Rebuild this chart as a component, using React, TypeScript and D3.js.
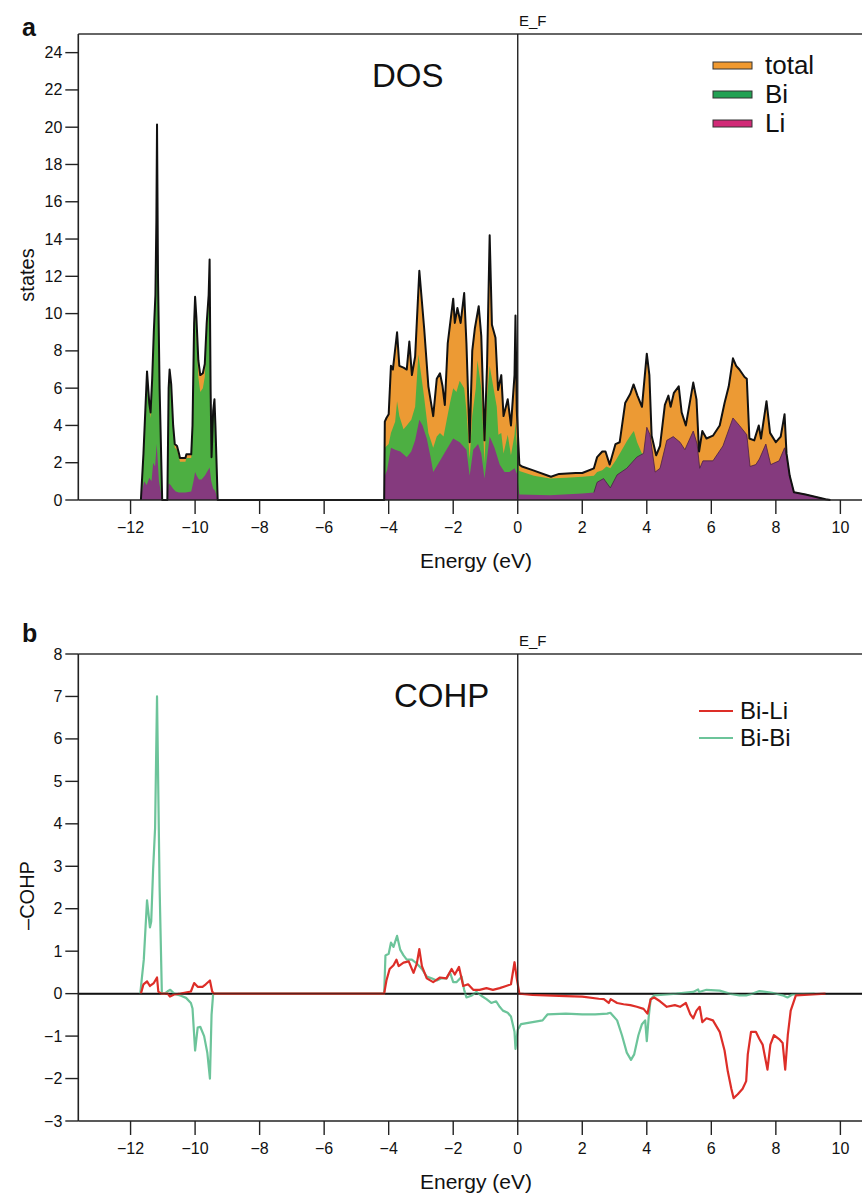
import React from "react";
import * as d3 from "d3";

// DOS curves, [energy eV, states]
const dosTotal: [number, number][] = [
  [-11.68, 0], [-11.6, 2.5], [-11.49, 6.9], [-11.42, 5.2], [-11.38, 4.7], [-11.33, 6.5], [-11.28, 9.0], [-11.23, 11.0], [-11.2, 15.0], [-11.18, 20.15], [-11.15, 12], [-11.1, 6], [-11.02, 0],
  [-10.86, 0], [-10.82, 6.0], [-10.79, 7.0], [-10.74, 6.2], [-10.68, 4.0], [-10.63, 3.0], [-10.56, 2.9], [-10.5, 2.5], [-10.47, 2.25], [-10.3, 2.25], [-10.27, 2.45], [-10.12, 2.45], [-10.08, 4.0], [-10.03, 9.5], [-10.0, 10.9], [-9.96, 9.8], [-9.9, 7.5], [-9.84, 6.7], [-9.76, 6.8], [-9.7, 7.3], [-9.64, 9.5], [-9.58, 11.0], [-9.55, 12.9], [-9.52, 6.0], [-9.49, 2.3], [-9.44, 4.8], [-9.4, 5.4], [-9.37, 4.0], [-9.3, 0],
  [-4.14, 0], [-4.12, 4.2], [-4.07, 4.4], [-4.0, 4.6], [-3.93, 7.2], [-3.87, 7.0], [-3.74, 9.0], [-3.67, 7.2], [-3.54, 7.1], [-3.44, 7.0], [-3.36, 8.5], [-3.28, 6.7], [-3.18, 7.7], [-3.05, 12.3], [-2.9, 9.2], [-2.77, 6.1], [-2.62, 4.5], [-2.51, 6.5], [-2.41, 6.8], [-2.33, 6.1], [-2.26, 5.1], [-2.17, 8.4], [-2.0, 10.8], [-1.95, 9.5], [-1.87, 10.3], [-1.77, 9.5], [-1.66, 11.1], [-1.59, 8.4], [-1.49, 3.1], [-1.41, 8.0], [-1.33, 9.2], [-1.21, 10.4], [-1.13, 8.8], [-1.03, 3.2], [-0.95, 7.3], [-0.87, 14.2], [-0.8, 9.4], [-0.69, 8.7], [-0.61, 5.9], [-0.51, 6.7], [-0.44, 4.5], [-0.31, 5.4], [-0.21, 4.0], [-0.1, 6.7], [-0.07, 9.9], [-0.03, 4.8],
  [0.05, 1.9], [0.13, 1.8], [0.46, 1.6], [1.03, 1.25], [1.28, 1.4], [1.79, 1.45], [2.0, 1.45], [2.36, 1.7], [2.46, 2.3], [2.62, 2.6], [2.72, 2.6], [2.85, 1.9], [3.03, 3.0], [3.16, 3.1], [3.33, 5.2], [3.49, 5.7], [3.59, 6.2], [3.71, 5.6], [3.85, 5.0], [4.0, 7.85], [4.08, 6.7], [4.15, 3.45], [4.29, 2.4], [4.41, 2.9], [4.56, 5.1], [4.67, 5.6], [4.74, 5.0], [4.84, 5.75], [4.99, 6.1], [5.08, 4.7], [5.21, 4.0], [5.33, 5.2], [5.44, 6.3], [5.54, 5.4], [5.62, 2.6], [5.72, 3.7], [5.85, 3.3], [6.05, 3.45], [6.26, 4.0], [6.41, 5.2], [6.54, 6.1], [6.67, 7.6], [6.77, 7.2], [6.87, 7.0], [7.03, 6.6], [7.1, 6.5], [7.18, 3.3], [7.33, 3.2], [7.47, 4.0], [7.54, 3.3], [7.71, 5.3], [7.82, 3.6], [8.0, 3.1], [8.15, 3.4], [8.27, 4.6], [8.33, 2.5], [8.43, 1.3], [8.56, 0.42], [8.92, 0.3], [9.54, 0.04], [9.69, 0],
];

const dosBi: [number, number][] = [
  [-11.68, 0], [-11.6, 2.4], [-11.49, 6.7], [-11.42, 4.9], [-11.38, 4.4], [-11.33, 6.2], [-11.28, 8.7], [-11.23, 10.7], [-11.2, 14.5], [-11.18, 19.8], [-11.15, 11.7], [-11.1, 5.8], [-11.02, 0],
  [-10.86, 0], [-10.82, 5.8], [-10.79, 6.8], [-10.74, 6.0], [-10.68, 3.8], [-10.63, 2.8], [-10.56, 2.7], [-10.5, 2.3], [-10.47, 2.05], [-10.3, 2.05], [-10.27, 2.25], [-10.12, 2.25], [-10.08, 3.8], [-10.03, 9.0], [-10.0, 10.4], [-9.96, 9.0], [-9.9, 6.6], [-9.84, 5.8], [-9.76, 6.0], [-9.7, 6.6], [-9.64, 9.0], [-9.58, 10.5], [-9.55, 12.4], [-9.52, 6.0], [-9.49, 3.5], [-9.44, 4.8], [-9.4, 5.2], [-9.37, 3.9], [-9.3, 0],
  [-4.14, 0], [-4.12, 2.8], [-4.0, 3.0], [-3.93, 3.6], [-3.8, 4.2], [-3.74, 5.3], [-3.67, 4.5], [-3.54, 3.8], [-3.44, 4.0], [-3.3, 4.3], [-3.18, 5.0], [-3.08, 7.8], [-3.0, 6.8], [-2.9, 5.5], [-2.77, 3.6], [-2.62, 2.8], [-2.51, 3.4], [-2.41, 3.6], [-2.3, 3.4], [-2.2, 4.3], [-2.1, 5.2], [-2.0, 6.0], [-1.9, 5.8], [-1.8, 6.4], [-1.66, 6.0], [-1.59, 4.8], [-1.49, 2.2], [-1.41, 4.5], [-1.3, 6.0], [-1.25, 7.5], [-1.13, 6.0], [-1.03, 2.0], [-0.95, 5.5], [-0.87, 7.2], [-0.75, 6.0], [-0.65, 5.0], [-0.6, 3.5], [-0.51, 3.6], [-0.44, 2.5], [-0.31, 3.5], [-0.21, 2.4], [-0.1, 3.5], [-0.07, 4.2], [-0.03, 3.0],
  [0.05, 1.55], [0.5, 1.3], [1.0, 1.15], [1.5, 1.2], [2.0, 1.25], [2.36, 1.3], [2.46, 1.5], [2.62, 1.6], [2.75, 1.8], [2.87, 1.7], [3.03, 2.1], [3.2, 2.6], [3.38, 3.15], [3.55, 3.6], [3.6, 3.7], [3.7, 3.1], [3.85, 2.5], [3.9, 2.5], [3.95, 0],
];

const dosLi: [number, number][] = [
  [-11.68, 0], [-11.64, 0.5], [-11.58, 1.0], [-11.5, 0.8], [-11.42, 1.2], [-11.35, 1.0], [-11.3, 2.0], [-11.24, 1.8], [-11.19, 3.0], [-11.12, 1.0], [-11.05, 0.3], [-11.02, 0],
  [-10.86, 0], [-10.82, 0.9], [-10.76, 0.8], [-10.68, 0.6], [-10.6, 0.45], [-10.5, 0.4], [-10.3, 0.4], [-10.12, 0.45], [-10.05, 1.0], [-10.0, 1.5], [-9.95, 1.3], [-9.88, 1.1], [-9.8, 1.1], [-9.7, 1.3], [-9.6, 1.6], [-9.55, 1.75], [-9.5, 1.0], [-9.44, 0.6], [-9.38, 0.5], [-9.3, 0],
  [-4.14, 0], [-4.12, 1.3], [-4.05, 1.6], [-3.93, 2.8], [-3.8, 2.7], [-3.64, 2.6], [-3.44, 2.3], [-3.3, 2.6], [-3.18, 3.2], [-3.05, 4.3], [-2.95, 4.0], [-2.82, 3.3], [-2.7, 2.3], [-2.62, 1.5], [-2.41, 2.1], [-2.21, 2.7], [-2.0, 3.3], [-1.8, 3.1], [-1.59, 2.7], [-1.49, 1.3], [-1.38, 2.7], [-1.23, 3.0], [-1.13, 2.5], [-1.03, 1.15], [-0.87, 3.4], [-0.72, 2.8], [-0.56, 1.9], [-0.41, 1.5], [-0.26, 1.5], [-0.1, 1.7], [-0.02, 1.4],
  [0.05, 0.3], [1.0, 0.25], [2.0, 0.35], [2.36, 0.4], [2.46, 0.95], [2.66, 1.15], [2.87, 0.65], [3.08, 1.35], [3.38, 1.7], [3.69, 2.3], [3.9, 2.5], [4.0, 3.9], [4.1, 3.5], [4.26, 1.5], [4.41, 1.7], [4.62, 3.2], [4.82, 3.4], [5.03, 3.1], [5.18, 2.7], [5.44, 3.7], [5.56, 3.0], [5.64, 1.7], [5.74, 2.1], [6.05, 2.1], [6.36, 2.9], [6.67, 4.4], [6.87, 4.0], [7.1, 3.5], [7.2, 1.8], [7.38, 1.9], [7.49, 2.2], [7.69, 3.0], [7.84, 1.9], [8.1, 2.1], [8.27, 2.8], [8.33, 2.4], [8.43, 1.3], [8.56, 0.42], [8.92, 0.3], [9.54, 0.04], [9.69, 0],
];

// -COHP curves, [energy eV, -COHP]
const cohpBiLi: [number, number][] = [
  [-11.68, 0], [-11.6, 0.22], [-11.49, 0.29], [-11.4, 0.18], [-11.28, 0.25], [-11.18, 0.38], [-11.14, 0.05], [-11.05, 0], [-10.85, 0], [-10.78, -0.07], [-10.65, -0.02], [-10.45, 0], [-10.13, 0.05], [-10.03, 0.25], [-9.92, 0.16], [-9.77, 0.16], [-9.67, 0.22], [-9.54, 0.31], [-9.47, 0.05], [-9.42, 0],
  [-4.14, 0], [-4.07, 0.31], [-3.97, 0.58], [-3.85, 0.67], [-3.76, 0.8], [-3.69, 0.65], [-3.54, 0.73], [-3.38, 0.76], [-3.23, 0.49], [-3.13, 0.7], [-3.05, 1.05], [-2.97, 0.65], [-2.82, 0.36], [-2.62, 0.27], [-2.41, 0.38], [-2.21, 0.36], [-2.05, 0.58], [-1.95, 0.45], [-1.82, 0.63], [-1.69, 0.18], [-1.54, 0.22], [-1.38, 0.09], [-1.18, 0.09], [-0.97, 0.13], [-0.77, 0.09], [-0.56, 0.13], [-0.36, 0.18], [-0.21, 0.22], [-0.1, 0.74], [-0.03, 0.36],
  [0.05, 0], [0.46, -0.03], [1.49, -0.06], [2.0, -0.07], [2.51, -0.12], [2.67, -0.13], [2.82, -0.22], [2.88, -0.13], [3.08, -0.22], [3.28, -0.25], [3.49, -0.27], [3.69, -0.31], [3.9, -0.36], [4.02, -0.47], [4.12, -0.13], [4.23, -0.09], [4.41, -0.18], [4.62, -0.31], [4.87, -0.27], [5.03, -0.31], [5.21, -0.22], [5.35, -0.49], [5.44, -0.58], [5.54, -0.4], [5.64, -0.31], [5.72, -0.67], [5.85, -0.58], [6.05, -0.63], [6.26, -0.9], [6.41, -1.34], [6.51, -1.83], [6.62, -2.24], [6.69, -2.46], [6.82, -2.37], [6.97, -2.24], [7.08, -2.06], [7.13, -1.43], [7.23, -0.9], [7.38, -0.9], [7.49, -1.07], [7.59, -1.2], [7.74, -1.79], [7.83, -1.2], [7.94, -0.98], [8.1, -1.07], [8.21, -1.16], [8.29, -1.79], [8.37, -0.98], [8.46, -0.4], [8.62, -0.04], [9.54, 0],
];

const cohpBiBi: [number, number][] = [
  [-11.7, 0], [-11.59, 0.8], [-11.49, 2.2], [-11.4, 1.56], [-11.36, 1.7], [-11.3, 2.95], [-11.24, 3.9], [-11.18, 7.0], [-11.1, 2.5], [-11.03, 0], [-10.95, 0], [-10.86, 0.05], [-10.77, 0.09], [-10.65, 0], [-10.44, -0.05], [-10.28, -0.1], [-10.13, -0.22], [-10.08, -0.35], [-10.0, -1.34], [-9.92, -0.8], [-9.84, -0.78], [-9.72, -1.0], [-9.62, -1.4], [-9.54, -2.0], [-9.49, -0.5], [-9.44, 0],
  [-4.14, 0], [-4.1, 0.9], [-4.0, 0.94], [-3.93, 1.2], [-3.85, 1.1], [-3.74, 1.36], [-3.64, 1.03], [-3.54, 0.9], [-3.44, 0.8], [-3.28, 0.8], [-3.13, 0.71], [-2.97, 0.58], [-2.82, 0.4], [-2.67, 0.36], [-2.51, 0.31], [-2.36, 0.36], [-2.21, 0.36], [-2.1, 0.5], [-2.0, 0.27], [-1.9, 0.27], [-1.74, 0.4], [-1.66, 0.09], [-1.59, -0.09], [-1.44, -0.05], [-1.28, 0.04], [-1.13, -0.05], [-0.97, -0.13], [-0.82, -0.22], [-0.67, -0.18], [-0.56, -0.31], [-0.46, -0.4], [-0.31, -0.45], [-0.21, -0.54], [-0.1, -0.9], [-0.07, -1.3],
  [0.0, -0.85], [0.1, -0.72], [0.46, -0.67], [0.77, -0.63], [0.92, -0.49], [1.49, -0.47], [2.0, -0.49], [2.4, -0.49], [2.77, -0.47], [2.87, -0.45], [3.08, -0.63], [3.23, -0.98], [3.38, -1.39], [3.51, -1.56], [3.61, -1.43], [3.74, -0.98], [3.85, -0.72], [3.95, -0.63], [4.0, -1.12], [4.06, -0.54], [4.12, -0.13], [4.23, -0.04], [4.92, 0], [5.44, 0.04], [5.59, 0.1], [5.62, 0.04], [5.85, 0.09], [6.26, 0.07], [6.56, 0], [6.87, -0.04], [7.08, -0.04], [7.28, 0], [7.49, 0.06], [7.89, 0.02], [8.21, -0.04], [8.36, -0.09], [8.51, -0.02], [9.2, 0],
];

const energyTicks = [-12, -10, -8, -6, -4, -2, 0, 2, 4, 6, 8, 10];
const dosTicks = [0, 2, 4, 6, 8, 10, 12, 14, 16, 18, 20, 22, 24];
const cohpTicks = [-3, -2, -1, 0, 1, 2, 3, 4, 5, 6, 7, 8];
const dosLegend = [
  { name: "total", color: "#F0992F" },
  { name: "Bi", color: "#22A153" },
  { name: "Li", color: "#D12A77" },
];
const cohpLegend = [
  { name: "Bi-Li", color: "#DD2E28" },
  { name: "Bi-Bi", color: "#6CC49A" },
];

const W = 862;
const H = 1194;
const FONT = "'Liberation Sans', Arial, Helvetica, sans-serif";
const AX = "#222";

const x = d3.scaleLinear().domain([-13.62, 10.67]).range([78.3, 862]);
const yDos = d3.scaleLinear().domain([0, 25]).range([500, 34]);
const yCohp = d3.scaleLinear().domain([-3, 8]).range([1121, 654]);

const minus = (t: number) => String(t).replace("-", "\u2212");

function Frame({ y, ticks, label, letter, title, titleX }: any) {
  const [y0, y1] = y.range();
  const left = x.range()[0];
  return (
    <g fontFamily={FONT} fill="#111">
      <line x1={left} x2={W} y1={y1} y2={y1} stroke="#333" strokeWidth={1.6} />
      <line x1={left} x2={W} y1={y0} y2={y0} stroke={AX} strokeWidth={1.6} />
      <line x1={left} x2={left} y1={y1} y2={y0} stroke={AX} strokeWidth={1.6} />
      <line x1={x(0)} x2={x(0)} y1={y1} y2={y0} stroke={AX} strokeWidth={1.4} />
      <text x={x(0) + 15} y={y1 - 8} fontSize={15} textAnchor="middle">E_F</text>
      {ticks.map((t: number) => (
        <g key={t}>
          <line x1={left - 13} x2={left} y1={y(t)} y2={y(t)} stroke={AX} strokeWidth={1.4} />
          <text x={left - 16} y={y(t) + 5.5} fontSize={16} textAnchor="end">{minus(t)}</text>
        </g>
      ))}
      {energyTicks.map((t) => (
        <g key={t}>
          <line x1={x(t)} x2={x(t)} y1={y0} y2={y0 + 14} stroke={AX} strokeWidth={1.4} />
          <text x={x(t)} y={y0 + 33} fontSize={16} textAnchor="middle">{minus(t)}</text>
        </g>
      ))}
      <text x={476} y={y0 + 68} fontSize={21} textAnchor="middle">Energy (eV)</text>
      <text transform={`translate(34,${(y0 + y1) / 2 + 8}) rotate(-90)`} fontSize={20} textAnchor="middle">{label}</text>
      <text x={22} y={y1 + (letter === "a" ? 2 : -12)} fontSize={25} fontWeight="bold">{letter}</text>
      <text x={titleX} y={y1 + 53} fontSize={33}>{title}</text>
    </g>
  );
}

export default function App() {
  const areaDos = (d: [number, number][]) =>
    d3.area<[number, number]>().x((p) => x(p[0])).y0(yDos(0)).y1((p) => yDos(p[1]))(d) || "";
  const lineDos = d3.line<[number, number]>().x((p) => x(p[0])).y((p) => yDos(p[1]));
  const lineCohp = d3.line<[number, number]>().x((p) => x(p[0])).y((p) => yCohp(p[1]));

  return (
    <svg width={W} height={H} style={{ position: "absolute", left: 0, top: 0, background: "#fff" }}>
      {/* panel a */}
      <path d={areaDos(dosTotal)} fill="#EC9A34" />
      <path d={areaDos(dosBi)} fill="#4DAF42" />
      <path d={areaDos(dosLi)} fill="#853A7E" />
      <path d={lineDos(dosLi.filter((p) => p[0] > 2.3)) || ""} fill="none" stroke="#4a2046" strokeWidth={0.8} />
      <path d={lineDos(dosTotal) || ""} fill="none" stroke="#111" strokeWidth={2} strokeLinejoin="round" />
      <Frame y={yDos} ticks={dosTicks} label="states" letter="a" title="DOS" titleX={372} />
      {dosLegend.map((l, i) => (
        <g key={l.name}>
          <rect x={713} y={62 + i * 29} width={39} height={7} fill={l.color} stroke="#333" strokeWidth={1} />
          <text x={765} y={74 + i * 29} fontSize={26} fontFamily={FONT} fill="#111">{l.name}</text>
        </g>
      ))}

      {/* panel b */}
      <line x1={x.range()[0]} x2={W} y1={yCohp(0)} y2={yCohp(0)} stroke="#111" strokeWidth={2} />
      <path d={lineCohp(cohpBiBi) || ""} fill="none" stroke="#6CC49A" strokeWidth={2.2} strokeLinejoin="round" />
      <path d={lineCohp(cohpBiLi) || ""} fill="none" stroke="#DD2E28" strokeWidth={2.2} strokeLinejoin="round" />
      <line x1={x.range()[0]} x2={W} y1={yCohp(0)} y2={yCohp(0)} stroke="#111" strokeWidth={1.2} opacity={0.6} />
      <Frame y={yCohp} ticks={cohpTicks} label={"\u2013COHP"} letter="b" title="COHP" titleX={394} />
      {cohpLegend.map((l, i) => (
        <g key={l.name}>
          <line x1={699} x2={733} y1={711 + i * 27} y2={711 + i * 27} stroke={l.color} strokeWidth={2.2} />
          <text x={740} y={719 + i * 27} fontSize={24} fontFamily={FONT} fill="#111">{l.name}</text>
        </g>
      ))}
    </svg>
  );
}
